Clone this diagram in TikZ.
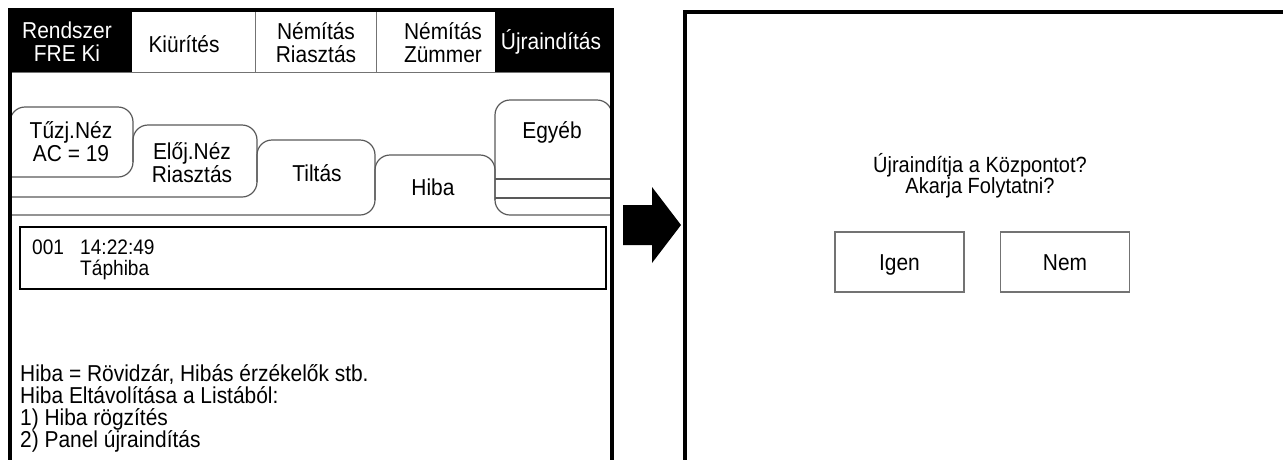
\documentclass[tikz,border=0pt]{standalone}
\usepackage{fontspec}
\setmainfont[FakeStretch=0.91]{Liberation Sans}
\usetikzlibrary{positioning}

\tikzset{
  panel/.style={line width=3.5pt, black},
  sep/.style={line width=1pt, black!55},
  tab/.style={line width=1.2pt, black!65, rounded corners=15pt},
  lbl/.style={font=\fontsize{23}{23}\selectfont, align=center, inner sep=0pt},
  inv/.style={lbl, text=white},
  msg/.style={font=\fontsize{23}{22}\selectfont, anchor=base west, inner sep=0pt,
    text height=15pt, text depth=3pt},
  entry/.style={font=\fontsize{21}{21}\selectfont, anchor=base west, inner sep=0pt},
  ask/.style={font=\fontsize{22}{21}\selectfont, anchor=base, inner sep=0pt},
  choice/.style={draw=black!55, line width=1.2pt, minimum width=129pt, minimum height=60pt,
    inner sep=0pt, font=\fontsize{23}{22}\selectfont, text height=16pt, text depth=0pt},
}

\begin{document}
\begin{tikzpicture}[x=1pt, y=-1pt]
	\useasboundingbox (0,0) rectangle (1283,459);

	% Button bar of the left screen
	\fill[black] (10,10) rectangle (132,72);
	\fill[black] (495,10) rectangle (612,72);
	\draw[sep] (10,72) -- (612,72);
	\draw[sep] (255,10) -- (255,72);
	\draw[sep] (376,10) -- (376,72);

	\node[inv] (rendszer) at (67,42) {Rendszer\\FRE Ki};
	\node[lbl] (kiurites) at (184,44) {Kiürítés};
	\node[lbl] (riasztas) at (316,43) {Némítás\\Riasztás};
	\node[lbl] (zummer) at (443,43) {Némítás\\Zümmer};
	\node[inv] (ujra) at (551,42) {Újraindítás};

	% Tabs
	\draw[tab] (10,215) -- (375,215) -- (375,140) -- (257,140) -- (257,182);
	\draw[tab] (10,197) -- (257,197) -- (257,125) -- (133,125) -- (133,162);
	\draw[tab] (10,177) -- (133,177) -- (133,107) -- (10,107) -- (10,130);
	\draw[tab] (375,200) -- (375,155) -- (495,155) -- (495,200);
	\draw[tab] (612,215) -- (495,215) -- (495,100) -- (612,100) -- (612,130);
	\draw[tab, sharp corners] (495,179) -- (612,179);
	\draw[tab, sharp corners] (495,198) -- (612,198);

	\node[lbl] (tuzj) at (71,142) {Tűzj.Néz\\AC = 19};
	\node[lbl] (eloj) at (192,163) {Előj.Néz\\Riasztás};
	\node[lbl] (tiltas) at (317,173) {Tiltás};
	\node[lbl] (hiba) at (433,187) {Hiba};
	\node[lbl] (egyeb) at (552,132) {Egyéb};

	% Fault list
	\draw[line width=2pt] (20,227) rectangle (606,289);
	\node[entry] (nr) at (32,254) {001};
	\node[entry] (ido) at (80,254) {14:22:49};
	\node[entry] (tap) at (80,275) {Táphiba};

	\node[msg] (sor1) at (20,381) {Hiba = Rövidzár, Hibás érzékelők stb.};
	\node[msg] (sor2) at (20,403) {Hiba Eltávolítása a Listából:};
	\node[msg] (sor3) at (20,425) {1) Hiba rögzítés};
	\node[msg] (sor4) at (20,447) {2) Panel újraindítás};

	\draw[panel] (10,462) -- (10,10) -- (612,10) -- (612,462);

	% Arrow
	\fill[black] (623,205) -- (652,205) -- (652,187) -- (681,225)
		-- (652,263) -- (652,245) -- (623,245) -- cycle;

	% Right screen
	\draw[panel] (685,462) -- (685,12) -- (1286,12);
	\node[ask] (kerdes1) at (980,172) {Újraindítja a Központot?};
	\node[ask] (kerdes2) at (980,193) {Akarja Folytatni?};

	\node[choice] (igen) at (899.5,262) {Igen};
	\node[choice] (nem) at (1065,262) {Nem};
\end{tikzpicture}
\end{document}
